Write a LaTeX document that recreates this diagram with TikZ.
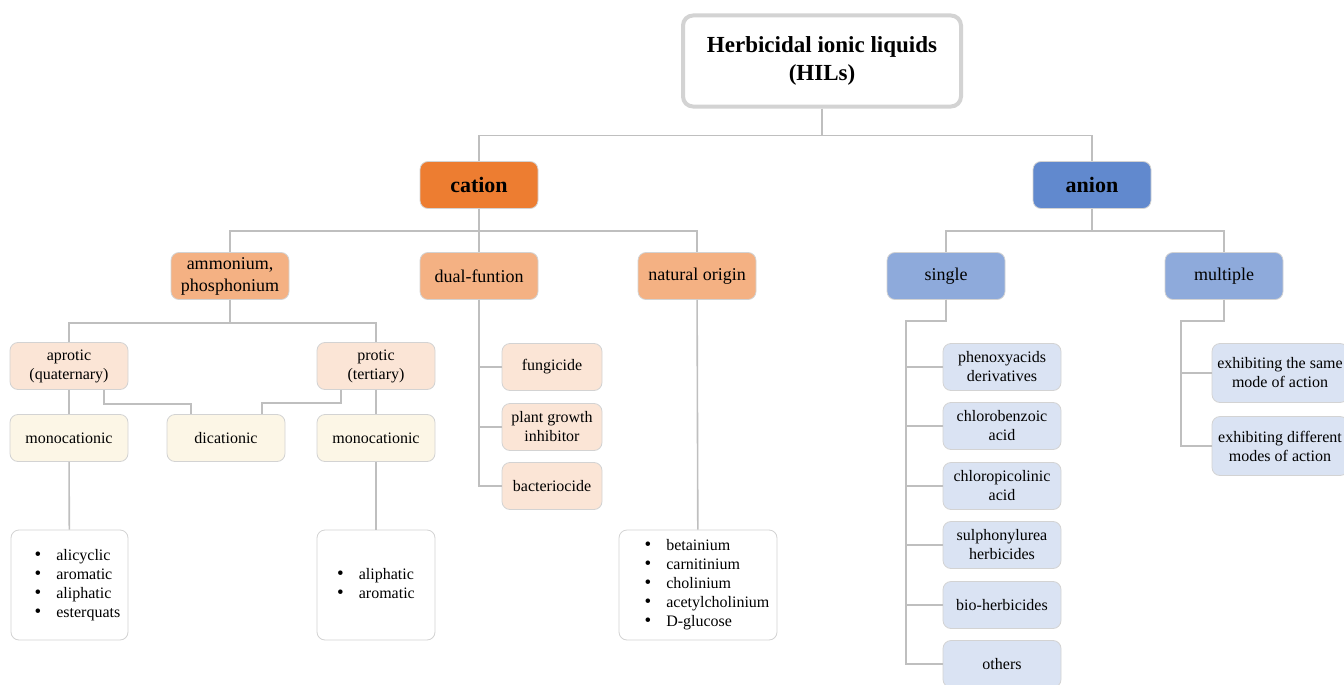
\documentclass[tikz,border=0pt]{standalone}
\usepackage{fontspec}
\setmainfont{Liberation Serif}
\usetikzlibrary{calc}
\definecolor{linegray}{HTML}{BFBFBF}
\definecolor{boxgray}{HTML}{D3D3D3}
\definecolor{catdark}{HTML}{ED7D31}
\definecolor{catmid}{HTML}{F4B183}
\definecolor{catlight}{HTML}{FBE5D6}
\definecolor{cream}{HTML}{FCF6E6}
\definecolor{andark}{HTML}{6189CE}
\definecolor{anmid}{HTML}{8EAADB}
\definecolor{anlight}{HTML}{DAE3F3}
\newcommand{\blt}{{\fontsize{19}{19}\selectfont\textbullet}}
\begin{document}
\begin{tikzpicture}[
            x=1pt, y=-1pt,
            every node/.style={font=\fontsize{16}{19}\selectfont, align=center, inner sep=0pt},
            box/.style={draw=boxgray, line width=0.8pt, rounded corners=8pt, minimum width=118pt, minimum height=47pt},
            midbox/.style={box, font=\fontsize{18}{22}\selectfont},
            rootbox/.style={draw=boxgray, line width=4pt, rounded corners=10pt, minimum width=278pt, minimum height=91pt, font=\fontsize{23}{28}\selectfont\bfseries},
            topbox/.style={box, font=\fontsize{22}{24}\selectfont\bfseries},
            listbox/.style={box, fill=white, minimum height=110pt},
            conn/.style={draw=linegray, line width=1.6pt}
            ]
        \useasboundingbox (0,0) rectangle (1344,685);

        % top levels
        \node[rootbox] (root) at (822,61) {Herbicidal ionic liquids\\(HILs)};
        \node[topbox, fill=catdark] (cation) at (479,185) {cation};
        \node[topbox, fill=andark] (anion) at (1092,185) {anion};

        % cation side
        \node[midbox, fill=catmid] (ammon) at (230,276) {ammonium,\\phosphonium};
        \node[midbox, fill=catmid] (dual) at (479,276) {dual-funtion};
        \node[midbox, fill=catmid] (natural) at (697,276) {natural origin};

        \node[box, fill=catlight] (aprotic) at (69,366) {aprotic\\(quaternary)};
        \node[box, fill=catlight] (protic) at (376,366) {protic\\(tertiary)};
        \node[box, fill=cream] (monoA) at (69,438) {monocationic};
        \node[box, fill=cream] (dication) at (226,438) {dicationic};
        \node[box, fill=cream] (monoB) at (376,438) {monocationic};

        \node[listbox, minimum width=117pt] (listA) at (69.5,585) {%
            \begin{tabular}{@{\hspace{16pt}}l@{\hspace{15pt}}l@{}}
            \blt & alicyclic\\ \blt & aromatic\\ \blt & aliphatic\\ \blt & esterquats
            \end{tabular}};
        \node[listbox] (listB) at (376,585) {%
            \begin{tabular}{@{}l@{\hspace{15pt}}l@{}}
            \blt & aliphatic\\ \blt & aromatic
            \end{tabular}};

        \node[box, fill=catlight, minimum width=100pt] (fungi) at (552,367) {fungicide};
        \node[box, fill=catlight, minimum width=100pt] (growth) at (552,427) {plant growth\\inhibitor};
        \node[box, fill=catlight, minimum width=100pt] (bacter) at (552,486) {bacteriocide};

        \node[listbox, minimum width=158pt] (natlist) at (698,585) {%
            \begin{tabular}{@{\hspace{18pt}}l@{\hspace{15pt}}l@{}}
            \blt & betainium\\ \blt & carnitinium\\ \blt & cholinium\\
            \blt & acetylcholinium\\ \blt & D-glucose
            \end{tabular}};

        % anion side
        \node[midbox, fill=anmid] (single) at (946,276) {single};
        \node[midbox, fill=anmid] (multiple) at (1224,276) {multiple};

        \node[box, fill=anlight] (phenoxy) at (1002,367) {phenoxyacids\\derivatives};
        \node[box, fill=anlight] (benzoic) at (1002,426) {chlorobenzoic\\acid};
        \node[box, fill=anlight] (picolin) at (1002,486) {chloropicolinic\\acid};
        \node[box, fill=anlight] (sulpho) at (1002,545) {sulphonylurea\\herbicides};
        \node[box, fill=anlight] (bioherb) at (1002,605) {bio-herbicides};
        \node[box, fill=anlight] (others) at (1002,664) {others};

        \node[box, fill=anlight, minimum width=136pt, minimum height=59pt] (samemode) at (1280,373) {exhibiting the same\\mode of action};
        \node[box, fill=anlight, minimum width=136pt, minimum height=59pt] (diffmode) at (1280,446) {exhibiting different\\modes of action};

        % connectors
        \draw[conn] (root.south) -- ++(0,27) -| (cation.north);
        \draw[conn] (root.south) -- ++(0,27) -| (anion.north);

        \foreach \kid in {ammon, dual, natural}
            \draw[conn] (cation.south) -- ++(0,22) -| (\kid.north);
        \foreach \kid in {aprotic, protic}
            \draw[conn] (ammon.south) -- ++(0,23) -| (\kid.north);

        \draw[conn] (aprotic) -- (monoA);
        \draw[conn] (protic) -- (monoB);
        \draw[conn] ($(aprotic.south)+(35,0)$) -- ++(0,14) -| ($(dication.north)+(-35,0)$);
        \draw[conn] ($(protic.south)+(-35,0)$) -- ++(0,13) -| ($(dication.north)+(36,0)$);
        \draw[conn] (monoA) -- (listA);
        \draw[conn] (monoB) -- (listB);

        \foreach \kid in {fungi, growth, bacter}
            \draw[conn] (dual.south) |- (\kid.west);
        \draw[conn] (natural) -- (natlist);

        \foreach \kid in {single, multiple}
            \draw[conn] (anion.south) -- ++(0,22) -| (\kid.north);
        \foreach \kid in {phenoxy, benzoic, picolin, sulpho, bioherb, others}
            \draw[conn] (single.south) -- ++(0,21) -- ++(-40,0) |- (\kid.west);
        \foreach \kid in {samemode, diffmode}
            \draw[conn] (multiple.south) -- ++(0,21) -- ++(-43,0) |- (\kid.west);
\end{tikzpicture}
\end{document}
